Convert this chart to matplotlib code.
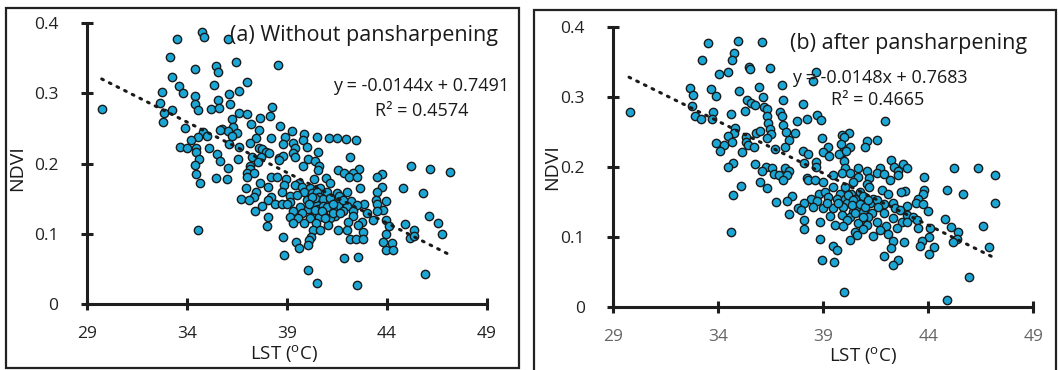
import matplotlib
matplotlib.use("Agg")
import matplotlib.pyplot as plt
from matplotlib.patches import Rectangle
import numpy as np

plt.rcParams['font.family'] = ['Open Sans', 'DejaVu Sans']
plt.rcParams['mathtext.fontset'] = 'custom'
plt.rcParams['mathtext.rm'] = 'Open Sans'
plt.rcParams['mathtext.it'] = 'Open Sans'

# ---------------- Data: panel (a) Without pansharpening ----------------
lst_a = [34.75, 34.87, 33.5, 36.05, 33.17, 36.45, 38.57, 34.43, 35.47, 35.58,
         33.25, 37.0, 33.6, 35.38, 32.77, 33.82, 36.63, 34.42, 36.1, 29.78,
         32.67, 34.4, 35.55, 36.15, 38.28, 33.27, 34.58, 35.22, 35.62, 32.87,
         36.62, 37.02, 32.8, 36.27, 37.22, 37.67, 38.17, 33.92, 38.67, 36.33,
         35.78, 36.08, 35.67, 37.62, 34.8, 36.5, 39.25, 35.0, 34.55, 36.25,
         38.93, 39.88, 40.53, 41.12, 41.52, 41.98, 42.47, 34.22, 38.23, 37.48,
         39.8, 36.13, 36.63, 37.17, 33.67, 34.03, 34.47, 35.12, 38.83, 39.33,
         40.03, 37.62, 37.75, 37.97, 38.13, 39.4, 40.58, 34.47, 35.5, 39.3,
         39.42, 42.18, 37.27, 37.72, 38.6, 38.83, 40.08, 40.42, 34.63, 36.55,
         35.67, 37.58, 38.63, 45.2, 34.43, 37.17, 39.83, 40.62, 36.05, 37.17,
         40.58, 41.57, 42.6, 46.18, 47.17, 43.78, 41.87, 42.33, 43.5, 42.13,
         42.5, 40.98, 37.0, 37.38, 34.47, 37.02, 38.22, 38.5, 38.97, 35.45,
         36.0, 40.37, 34.67, 37.67, 41.17, 39.6, 38.87, 39.4, 38.07, 44.83,
         43.75, 42.67, 36.95, 39.77, 40.17, 40.5, 40.67, 38.78, 43.52, 45.8,
         37.45, 42.0, 39.87, 40.25, 40.75, 41.0, 41.53, 39.17, 39.5, 38.2,
         37.38, 36.7, 37.12, 38.08, 39.17, 40.0, 40.33, 40.67, 41.2, 41.67,
         42.2, 43.47, 43.97, 42.88, 38.42, 38.75, 39.03, 40.5, 40.92, 41.55,
         42.0, 42.5, 43.5, 37.78, 39.67, 40.08, 41.33, 41.8, 42.33, 43.83,
         43.5, 37.42, 39.33, 39.75, 40.42, 40.83, 43.0, 42.33, 41.4, 39.17,
         38.05, 39.55, 40.17, 40.6, 41.17, 43.33, 43.97, 42.05, 42.75, 44.93,
         46.13, 46.55, 39.33, 39.87, 40.45, 41.08, 42.58, 44.1, 38.03, 40.33,
         40.67, 41.58, 42.0, 42.8, 45.38, 46.75, 43.97, 34.58, 45.15, 45.38,
         42.17, 42.47, 42.83, 38.8, 40.23, 40.1, 39.45, 43.83, 44.25, 40.08,
         39.62, 43.97, 44.3, 38.88, 42.55, 41.88, 40.05, 45.92, 40.52, 42.52,
         40.5, 40.63, 40.8, 40.42, 40.25, 40.13, 40.58, 40.8, 41.03, 41.17,
         41.3, 40.42, 40.75, 40.92, 41.63, 41.83, 41.33, 41.67]
ndvi_a = [0.388, 0.380, 0.377, 0.378, 0.352, 0.345, 0.340, 0.335, 0.339, 0.331,
          0.323, 0.317, 0.311, 0.312, 0.302, 0.300, 0.304, 0.297, 0.299, 0.278,
          0.287, 0.285, 0.291, 0.285, 0.281, 0.276, 0.276, 0.278, 0.279, 0.272,
          0.272, 0.271, 0.260, 0.263, 0.257, 0.265, 0.268, 0.251, 0.254, 0.252,
          0.250, 0.246, 0.248, 0.248, 0.245, 0.244, 0.247, 0.240, 0.238, 0.239,
          0.238, 0.242, 0.238, 0.236, 0.237, 0.235, 0.233, 0.233, 0.237, 0.236,
          0.233, 0.228, 0.224, 0.229, 0.224, 0.223, 0.222, 0.223, 0.228, 0.229,
          0.224, 0.223, 0.221, 0.217, 0.215, 0.222, 0.216, 0.216, 0.214, 0.215,
          0.210, 0.210, 0.210, 0.209, 0.208, 0.211, 0.207, 0.204, 0.206, 0.206,
          0.204, 0.203, 0.205, 0.197, 0.198, 0.197, 0.197, 0.197, 0.194, 0.193,
          0.191, 0.191, 0.192, 0.192, 0.188, 0.185, 0.187, 0.186, 0.181, 0.181,
          0.181, 0.179, 0.187, 0.186, 0.185, 0.181, 0.181, 0.181, 0.178, 0.179,
          0.178, 0.178, 0.172, 0.173, 0.172, 0.173, 0.170, 0.170, 0.167, 0.166,
          0.167, 0.165, 0.165, 0.167, 0.166, 0.164, 0.165, 0.160, 0.160, 0.158,
          0.159, 0.160, 0.159, 0.158, 0.155, 0.160, 0.158, 0.154, 0.156, 0.153,
          0.152, 0.149, 0.148, 0.148, 0.146, 0.148, 0.146, 0.148, 0.147, 0.146,
          0.147, 0.148, 0.147, 0.143, 0.143, 0.143, 0.143, 0.141, 0.142, 0.140,
          0.139, 0.141, 0.143, 0.140, 0.138, 0.136, 0.134, 0.133, 0.133, 0.134,
          0.132, 0.133, 0.132, 0.130, 0.129, 0.128, 0.129, 0.125, 0.125, 0.124,
          0.124, 0.122, 0.122, 0.124, 0.122, 0.120, 0.119, 0.117, 0.117, 0.114,
          0.125, 0.116, 0.115, 0.116, 0.115, 0.113, 0.112, 0.111, 0.111, 0.106,
          0.105, 0.106, 0.105, 0.103, 0.106, 0.100, 0.100, 0.106, 0.094, 0.097,
          0.093, 0.093, 0.092, 0.096, 0.095, 0.091, 0.088, 0.088, 0.087, 0.084,
          0.080, 0.077, 0.077, 0.070, 0.067, 0.065, 0.048, 0.043, 0.030, 0.027,
          0.160, 0.153, 0.149, 0.151, 0.153, 0.143, 0.136, 0.140, 0.138, 0.151,
          0.143, 0.134, 0.133, 0.122, 0.154, 0.148, 0.129, 0.129]

# ---------------- Data: panel (b) after pansharpening ----------------
lst_b = [34.92, 36.1, 33.52, 34.76, 33.22, 34.67, 35.48, 36.46, 35.51, 34.46,
         34.05, 38.63, 38.51, 37.03, 35.95, 32.65, 33.65, 34.97, 32.81, 33.87,
         36.14, 35.35, 37.1, 35.56, 35.75, 32.75, 38.05, 36.19, 36.33, 29.79,
         33.75, 34.59, 35.29, 36.94, 32.9, 33.16, 33.7, 37.03, 38.71, 38.21,
         38.87, 41.94, 36.3, 36.35, 37.73, 37.1, 34.79, 36.46, 34.75, 35.79,
         35.98, 37.22, 37.65, 36.49, 40.22, 39.87, 34.46, 35.32, 36.3, 38.95,
         39.97, 37.38, 41.1, 41.54, 34.63, 35.33, 33.89, 34.29, 39.84, 35.41,
         37.17, 39.24, 40.98, 40.27, 35.71, 36.7, 34.08, 38.05, 38.97, 39.92,
         39.73, 40.08, 35.14, 38.25, 39.29, 42.22, 39.98, 38.65, 38.1, 34.68,
         35.75, 42.78, 38.65, 42.35, 42.97, 45.24, 46.37, 47.19, 34.48, 36.27,
         36.54, 37.17, 40.03, 40.63, 41.7, 36.1, 37.35, 41.06, 42.54, 39.87,
         40.27, 41.56, 41.9, 36.65, 36.9, 39.44, 37.29, 42.54, 43.81, 38.24,
         40.67, 41.16, 37.06, 38.29, 38.6, 39.0, 42.17, 40.4, 35.98, 36.3,
         35.06, 41.06, 41.19, 40.03, 39.48, 41.78, 42.89, 42.68, 43.81, 44.87,
         45.67, 42.1, 38.81, 39.08, 39.79, 40.32, 40.75, 43.76, 34.71, 37.51,
         39.24, 39.63, 40.03, 40.51, 40.9, 41.38, 43.52, 38.41, 37.29, 36.73,
         47.16, 38.1, 38.71, 40.11, 41.22, 41.54, 42.3, 43.41, 42.97, 41.87,
         37.81, 38.49, 38.97, 39.48, 39.95, 40.67, 41.62, 42.41, 43.73, 42.65,
         43.97, 37.92, 40.4, 40.9, 41.3, 41.87, 37.38, 39.32, 39.87, 40.27,
         42.97, 43.29, 43.44, 41.14, 42.33, 44.79, 40.9, 38.1, 38.84, 40.11,
         41.54, 42.73, 42.97, 39.56, 39.95, 40.67, 41.98, 46.59, 41.06, 42.49,
         43.52, 44.08, 45.06, 38.08, 40.87, 41.7, 40.51, 45.43, 42.1, 40.62,
         41.38, 34.62, 44.05, 45.35, 38.84, 40.27, 45.16, 42.3, 42.86, 43.69,
         43.6, 44.27, 46.87, 39.48, 39.63, 42.21, 44.05, 41.9, 38.92, 42.57,
         39.49, 42.3, 45.95, 40.0, 44.87,
         40.19, 40.43, 40.35, 40.75, 40.98, 41.14, 40.51, 40.9, 39.71, 39.16]
ndvi_b = [0.380, 0.378, 0.377, 0.363, 0.353, 0.353, 0.342, 0.341, 0.339, 0.335,
          0.332, 0.335, 0.323, 0.317, 0.314, 0.312, 0.311, 0.308, 0.302, 0.301,
          0.300, 0.296, 0.295, 0.291, 0.288, 0.287, 0.290, 0.285, 0.282, 0.279,
          0.279, 0.276, 0.280, 0.278, 0.273, 0.268, 0.269, 0.272, 0.274, 0.268,
          0.267, 0.266, 0.273, 0.263, 0.265, 0.260, 0.255, 0.254, 0.249, 0.249,
          0.252, 0.250, 0.248, 0.247, 0.248, 0.246, 0.244, 0.243, 0.242, 0.241,
          0.243, 0.238, 0.237, 0.238, 0.235, 0.235, 0.234, 0.232, 0.233, 0.231,
          0.229, 0.228, 0.229, 0.229, 0.228, 0.225, 0.223, 0.223, 0.221, 0.221,
          0.219, 0.223, 0.221, 0.218, 0.215, 0.210, 0.208, 0.207, 0.205, 0.206,
          0.204, 0.204, 0.200, 0.200, 0.199, 0.198, 0.198, 0.188, 0.200, 0.200,
          0.198, 0.199, 0.199, 0.198, 0.198, 0.195, 0.195, 0.194, 0.195, 0.191,
          0.191, 0.191, 0.190, 0.190, 0.188, 0.188, 0.188, 0.188, 0.186, 0.185,
          0.186, 0.185, 0.181, 0.181, 0.181, 0.179, 0.181, 0.179, 0.178, 0.170,
          0.173, 0.176, 0.172, 0.172, 0.172, 0.167, 0.166, 0.165, 0.167, 0.167,
          0.162, 0.161, 0.161, 0.165, 0.162, 0.162, 0.165, 0.162, 0.160, 0.159,
          0.157, 0.155, 0.154, 0.155, 0.158, 0.154, 0.154, 0.154, 0.152, 0.150,
          0.149, 0.149, 0.151, 0.148, 0.149, 0.153, 0.149, 0.149, 0.144, 0.147,
          0.141, 0.143, 0.141, 0.141, 0.143, 0.141, 0.143, 0.141, 0.147, 0.139,
          0.137, 0.138, 0.136, 0.136, 0.134, 0.134, 0.133, 0.130, 0.132, 0.129,
          0.132, 0.129, 0.124, 0.129, 0.127, 0.126, 0.124, 0.124, 0.122, 0.124,
          0.122, 0.121, 0.122, 0.117, 0.116, 0.120, 0.116, 0.116, 0.117, 0.113,
          0.113, 0.113, 0.114, 0.112, 0.111, 0.110, 0.108, 0.107, 0.105, 0.103,
          0.102, 0.107, 0.100, 0.097, 0.097, 0.096, 0.093, 0.094, 0.093, 0.094,
          0.088, 0.086, 0.086, 0.088, 0.081, 0.084, 0.076, 0.073, 0.068, 0.067,
          0.064, 0.060, 0.043, 0.022, 0.010,
          0.160, 0.153, 0.146, 0.147, 0.143, 0.153, 0.134, 0.129, 0.148, 0.148]

x_ticks = [29, 34, 39, 44, 49]
y_ticks = [0, 0.1, 0.2, 0.3, 0.4]
y_ticklabels = ['0', '0.1', '0.2', '0.3', '0.4']

fit_a = (-0.0144, 0.7491, 0.4574)
fit_b = (-0.0148, 0.7683, 0.4665)
fit_range_a = (29.75, 47.15)
fit_range_b = (29.75, 47.15)

title_a = "(a) Without pansharpening"
title_b = "(b) after pansharpening"

W, H = 1058, 370
fig = plt.figure(figsize=(W / 100, H / 100), dpi=100)

# panel frames
fig.patches.append(Rectangle((6 / W, 1 - 368 / H), (519 - 6) / W, (368 - 8) / H,
                             transform=fig.transFigure, fill=False,
                             edgecolor='#222222', linewidth=1.6))
fig.patches.append(Rectangle((534 / W, 1 - 372 / H), (1056 - 534) / W, (372 - 10) / H,
                             transform=fig.transFigure, fill=False,
                             edgecolor='#222222', linewidth=1.6))

ax_a = fig.add_axes([86.7 / W, 1 - 304 / H, 400 / W, (304 - 23.3) / H])
ax_b = fig.add_axes([613.3 / W, 1 - 307.3 / H, 420 / W, (307.3 - 26.7) / H])

pt_color = '#1AA7D6'
edge_color = '#1a1a1a'
axis_color = '#1e1e1e'


def style(ax, xlabcolor, ylabcolor):
    ax.set_xlim(29, 49)
    ax.set_ylim(0, 0.4)
    ax.set_xticks(x_ticks)
    ax.set_yticks(y_ticks)
    ax.set_yticklabels(y_ticklabels)
    for s in ['top', 'right']:
        ax.spines[s].set_visible(False)
    for s in ['left', 'bottom']:
        ax.spines[s].set_linewidth(2.2)
        ax.spines[s].set_color(axis_color)
    ax.tick_params(axis='both', direction='inout', length=9, width=2.2,
                   color=axis_color, labelsize=12.5)
    ax.tick_params(axis='x', pad=11, labelcolor=xlabcolor)
    ax.tick_params(axis='y', pad=16, labelcolor=ylabcolor)
    ax.patch.set_alpha(0)


def draw(ax, xs, ys, fit, rng):
    ax.scatter(xs, ys, s=36, c=pt_color, edgecolors=edge_color,
               linewidths=1.0, zorder=3, clip_on=False)
    xx = np.array(rng)
    ax.plot(xx, fit[0] * xx + fit[1], color='#1a1a1a', linewidth=2.2,
            linestyle=(0, (0.6, 2.2)), dash_capstyle='round', zorder=4)


draw(ax_a, lst_a, ndvi_a, fit_a, fit_range_a)
draw(ax_b, lst_b, ndvi_b, fit_b, fit_range_b)
style(ax_a, '#222222', '#222222')
style(ax_b, '#666666', '#222222')

# titles and equations
ax_a.text(0.358, 0.955, title_a, transform=ax_a.transAxes, fontsize=15.5,
          ha='left', va='center', color='#1a1a1a', zorder=5)
ax_a.text(1.056, 0.777, f"y = {fit_a[0]:.4f}x + {fit_a[1]:.4f}",
          transform=ax_a.transAxes, fontsize=13, ha='right', va='center',
          color='#1a1a1a', zorder=5)
ax_a.text(0.838, 0.686, f"R\u00b2 = {fit_a[2]:.4f}", transform=ax_a.transAxes,
          fontsize=13, ha='center', va='center', color='#1a1a1a', zorder=5)

ax_b.text(0.42, 0.94, title_b, transform=ax_b.transAxes, fontsize=15.5,
          ha='left', va='center', color='#1a1a1a', zorder=5)
ax_b.text(0.425, 0.818, f"y = {fit_b[0]:.4f}x + {fit_b[1]:.4f}",
          transform=ax_b.transAxes, fontsize=13, ha='left', va='center',
          color='#1a1a1a', zorder=5)
ax_b.text(0.63, 0.74, f"R\u00b2 = {fit_b[2]:.4f}", transform=ax_b.transAxes,
          fontsize=13, ha='center', va='center', color='#1a1a1a', zorder=5)

# axis labels
fig.text(284 / W, 1 - 354 / H, r"LST ($^{\mathrm{o}}$C)", fontsize=13.5,
         ha='center', va='center', color='#1a1a1a')
fig.text(17 / W, 1 - 168 / H, "NDVI", fontsize=14, rotation=90,
         ha='center', va='center', color='#1a1a1a')
fig.text(863 / W, 1 - 356 / H, r"LST ($^{\mathrm{o}}$C)", fontsize=13.5,
         ha='center', va='center', color='#1a1a1a')
fig.text(552 / W, 1 - 167 / H, "NDVI", fontsize=14, rotation=90,
         ha='center', va='center', color='#1a1a1a')

fig.savefig("out.png", dpi=100)
